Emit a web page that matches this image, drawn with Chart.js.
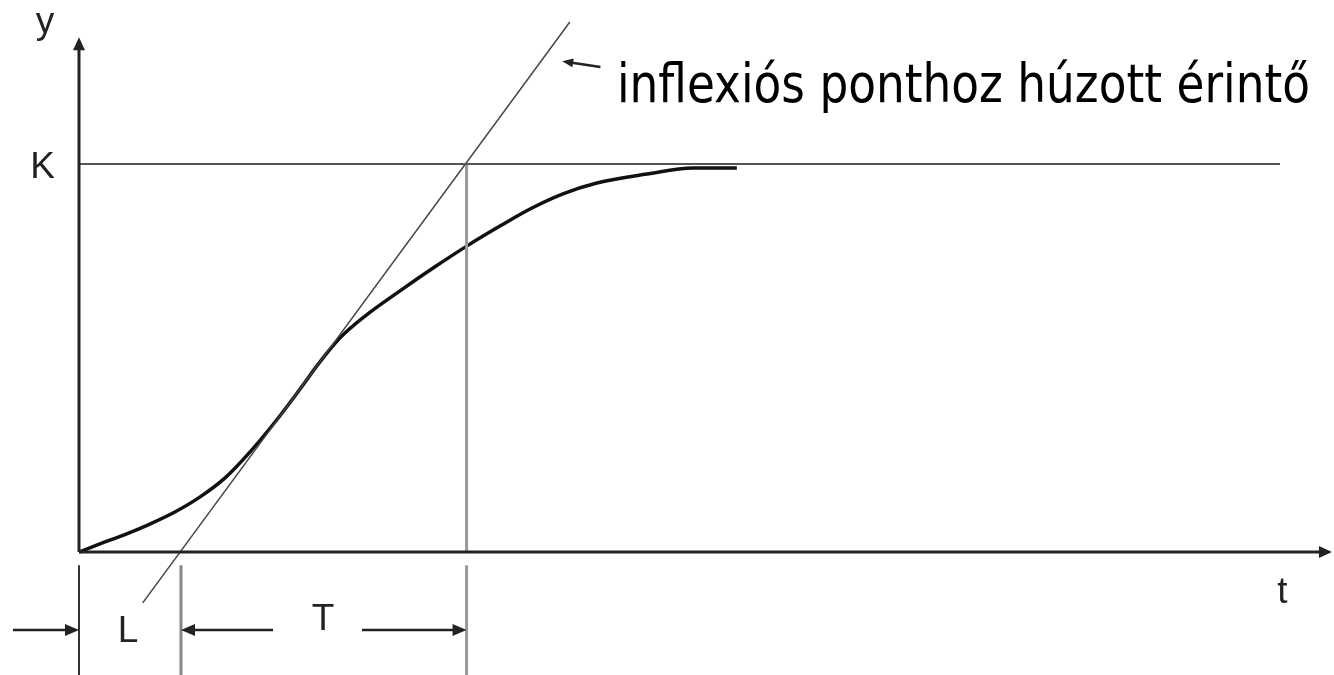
<!DOCTYPE html>
<html>
<head>
<meta charset="utf-8">
<script src="https://cdn.jsdelivr.net/npm/chart.js@4"></script>
<style>
  html, body { margin: 0; padding: 0; background: #fff; }
  #wrap { width: 1334px; height: 675px; }
</style>
</head>
<body>
<div id="wrap"><canvas id="stepChart"></canvas></div>
<script>
// step response of a process, time in s, output relative to K
const timeS = [0, 0.82, 1.8, 2.78, 3.76, 4.75, 5.73, 6.71, 7.69, 8.67, 9.45, 10.24, 11.22, 12.59, 13.96, 15.22, 16.51, 17.69, 18.98, 20.31, 22.27, 24.08, 25.8];
const response = [0, 0.021, 0.045, 0.072, 0.103, 0.142, 0.191, 0.258, 0.335, 0.42, 0.49, 0.552, 0.608, 0.673, 0.735, 0.789, 0.84, 0.884, 0.923, 0.951, 0.974, 0.99, 0.99];

// tangent drawn through the inflection point
const tangentT = [2.5, 19.25];
const tangentY = [-0.131, 1.366];

const K = 1;
const deadTime = 4.0;      // L
const timeConst = 11.2;    // T
const kLineEnd = 47.1;

const axisLabels = { y: "y", t: "t", K: "K", L: "L", T: "T" };
const note = "inflexiós ponthoz húzott érintő";

const xMin = -3.098, xMax = 49.22;
const yMin = -0.317, yMax = 1.4227;

const pts = (xs, ys) => xs.map((x, i) => ({ x, y: ys[i] }));
const seg = (x1, y1, x2, y2) => [{ x: x1, y: y1 }, { x: x2, y: y2 }];

const tEnd = deadTime + timeConst;
const tickTop = -0.034;

function arrowHead(ctx, x1, y1, x2, y2, len, half) {
  const a = Math.atan2(y2 - y1, x2 - x1);
  ctx.beginPath();
  ctx.moveTo(x2, y2);
  ctx.lineTo(x2 - len * Math.cos(a) + half * Math.sin(a), y2 - len * Math.sin(a) - half * Math.cos(a));
  ctx.lineTo(x2 - len * Math.cos(a) - half * Math.sin(a), y2 - len * Math.sin(a) + half * Math.cos(a));
  ctx.closePath();
  ctx.fill();
}

function arrow(ctx, x1, y1, x2, y2, width, len, half) {
  const a = Math.atan2(y2 - y1, x2 - x1);
  ctx.lineWidth = width;
  ctx.beginPath();
  ctx.moveTo(x1, y1);
  ctx.lineTo(x2 - len * 0.6 * Math.cos(a), y2 - len * 0.6 * Math.sin(a));
  ctx.stroke();
  arrowHead(ctx, x1, y1, x2, y2, len, half);
}

const decorations = {
  id: "decorations",
  afterDatasetsDraw(chart) {
    const { ctx, scales: { x, y } } = chart;
    const px = v => x.getPixelForValue(v);
    const py = v => y.getPixelForValue(v);
    ctx.save();
    ctx.strokeStyle = "#222";
    ctx.fillStyle = "#222";

    // axes with arrow heads
    arrow(ctx, px(0), py(0), px(0), py(1.327), 3, 13, 6);
    arrow(ctx, px(0), py(0), px(49.14), py(0), 3, 13, 6);

    // dimension arrows for L and T
    const dimY = py(-0.201);
    arrow(ctx, px(-2.59), dimY, px(0), dimY, 2.5, 14, 6);
    arrow(ctx, px(7.61), dimY, px(deadTime), dimY, 2.5, 14, 6);
    arrow(ctx, px(11.1), dimY, px(tEnd), dimY, 2.5, 14, 6);

    // pointer to the tangent
    arrow(ctx, px(20.45), py(1.25), px(18.95), py(1.265), 2.5, 11, 4.5);

    // letters
    ctx.font = "37px 'Liberation Sans', Arial, sans-serif";
    ctx.textBaseline = "alphabetic";
    ctx.textAlign = "center";
    ctx.fillText(axisLabels.y, px(-1.33), py(1.337));
    ctx.fillText(axisLabels.t, px(47.2), py(-0.131));
    ctx.fillText(axisLabels.L, px(1.92), py(-0.232));
    ctx.fillText(axisLabels.T, px(9.57), py(-0.201));
    ctx.textAlign = "right";
    ctx.fillText(axisLabels.K, px(-0.94), py(0.964));

    ctx.fillStyle = "#000";
    ctx.textAlign = "left";
    ctx.font = "53px 'DejaVu Sans', Verdana, sans-serif";
    ctx.fillText(note, px(21.1), py(1.16), 693);
    ctx.restore();
  }
};

const line = (data, color, width, extra) => Object.assign({
  data, borderColor: color, borderWidth: width, showLine: true,
  pointRadius: 0, tension: 0, fill: false
}, extra || {});

new Chart(document.getElementById("stepChart"), {
  type: "scatter",
  data: {
    datasets: [
      line(seg(0, K, kLineEnd, K), "#555", 2),
      line(seg(tEnd, K, tEnd, 0), "#999", 3),
      line(seg(tEnd, tickTop, tEnd, yMin), "#999", 3),
      line(seg(0, tickTop, 0, yMin), "#333", 2),
      line(seg(deadTime, tickTop, deadTime, yMin), "#888", 3),
      line(pts(tangentT, tangentY), "#444", 1.5),
      line(pts(timeS, response), "#111", 3.5, { cubicInterpolationMode: "monotone" }),
    ],
  },
  options: {
    responsive: true,
    maintainAspectRatio: false,
    animation: false,
    layout: { padding: 0 },
    plugins: { legend: { display: false }, tooltip: { enabled: false } },
    scales: {
      x: { type: "linear", min: xMin, max: xMax, display: false },
      y: { type: "linear", min: yMin, max: yMax, display: false },
    },
  },
  plugins: [decorations],
});
</script>
</body>
</html>
